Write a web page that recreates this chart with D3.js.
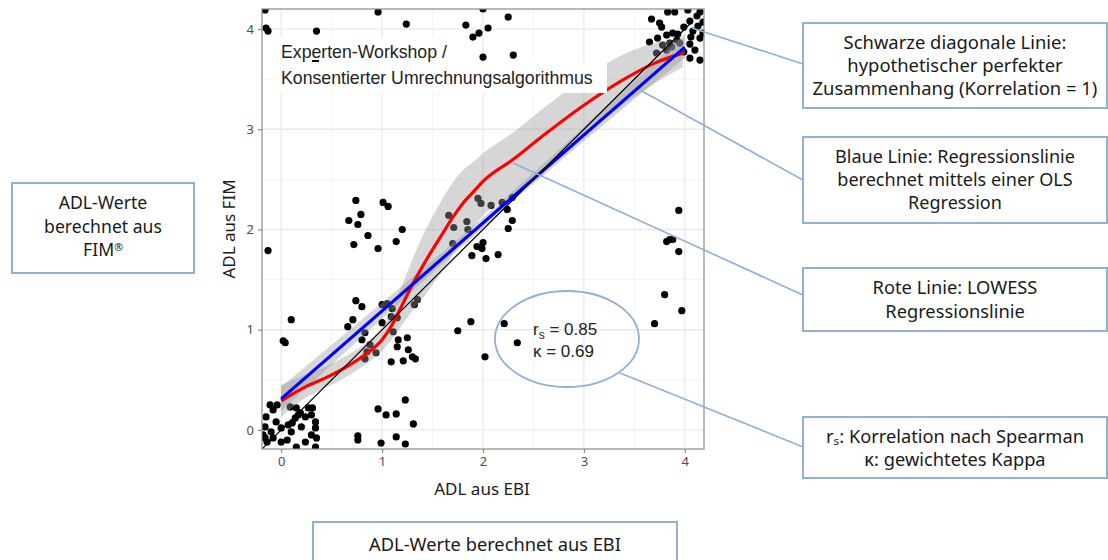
<!DOCTYPE html>
<html><head><meta charset="utf-8">
<script src="https://cdn.jsdelivr.net/npm/d3@7"></script>
<style>body{margin:0;background:#fff}</style>
</head><body><svg id="c" width="1108" height="560"></svg>
<script>
// ---- data ----
const ebi = [
 -0.16,-0.15,-0.13,0.35,0.96,1.24,0.34,1.83,1.90,1.96,2.05,2.00,2.25,2.30,2.00,
 3.67,3.75,3.77,3.83,3.90,4.03,3.65,3.73,3.82,3.88,3.93,3.99,4.05,4.12,4.15,4.18,4.13,4.08,4.18,4.15,4.06,4.05,4.10,4.15,4.05,3.99,3.95,3.92,3.87,3.82,3.78,3.72,3.85,
 3.94,3.82,3.85,3.88,3.94,3.80,3.97,3.70,
 1.75,1.88,2.21,2.34,2.02,
 0.74,1.01,1.06,0.79,0.67,0.76,0.86,1.20,0.72,0.96,1.14,-0.13,
 1.66,1.71,1.84,1.85,1.70,1.95,1.98,2.08,2.19,2.29,2.24,2.29,2.25,2.00,1.94,1.99,1.89,2.03,2.15,
 0.10,0.02,0.04,0.74,0.80,0.71,0.66,1.00,1.05,1.10,1.09,1.15,1.00,1.11,1.16,1.25,1.15,1.26,1.30,1.33,1.09,1.21,0.83,0.94,0.80,0.88,0.85,0.83,1.35,1.32,
 0.96,1.04,1.14,1.23,1.31,0.76,0.76,0.99,1.14,1.23,
 -0.11,-0.08,-0.04,-0.15,-0.05,-0.16,-0.10,-0.18,0.00,0.07,0.14,0.19,0.15,0.09,0.27,0.30,0.34,0.34,0.30,0.35,0.34,0.24,0.00,-0.16,-0.08,0.15,0.10,0.20,0.17,0.24,0.31,0.06,-0.14,0.11
];
const fim = [
 4.19,4.01,3.98,3.98,4.17,4.05,3.68,4.04,3.92,3.96,4.01,3.72,4.12,3.74,4.20,
 4.10,4.06,4.02,4.17,4.17,4.19,3.87,3.91,3.94,3.96,3.95,4.02,4.08,4.13,4.17,4.07,4.03,3.98,3.96,3.91,3.92,3.85,3.79,3.69,3.71,3.77,3.86,3.89,3.82,3.79,3.84,3.76,3.86,
 2.19,1.88,1.90,1.90,1.78,1.35,1.19,1.06,
 0.99,1.08,1.06,0.87,0.73,
 2.29,2.27,2.23,2.15,2.09,2.05,1.94,2.00,1.85,1.81,1.88,1.79,
 2.14,2.02,2.08,2.00,1.86,2.31,2.26,2.24,2.27,2.32,2.20,2.09,2.01,1.87,1.83,1.81,1.74,1.71,1.75,
 1.10,0.89,0.87,1.29,1.23,1.10,1.03,1.25,1.26,1.21,1.13,1.12,1.07,0.98,0.90,0.92,0.83,0.80,0.73,0.71,0.68,0.69,0.71,0.77,0.90,0.85,0.78,0.97,1.30,1.25,
 0.21,0.15,0.16,0.30,0.06,-0.06,-0.10,-0.13,-0.07,-0.14,
 0.25,0.20,0.25,0.13,0.08,0.03,-0.02,-0.05,0.02,0.05,0.12,0.17,0.22,0.23,0.22,0.15,0.08,0.02,-0.05,-0.08,-0.17,-0.12,-0.12,-0.08,-0.08,-0.17,-0.02,0.03,0.15,0.13,0.22,-0.10,-0.12,0.07
];
// OLS regression line and its confidence band
const olsX = [0, 4];
const olsY = [0.31, 3.82];
const olsBandX = [0, 1, 2, 3, 4];
const olsLo = [0.19, 1.11, 2.02, 2.88, 3.71];
const olsHi = [0.43, 1.27, 2.12, 3.02, 3.95];
// LOWESS curve and its band
const lowX  = [0, 0.24, 0.44, 0.63, 0.83, 1.00, 1.10, 1.20, 1.30, 1.40, 1.50, 1.60, 1.70, 1.80, 1.90, 2.00, 2.30, 2.60, 3.00, 3.40, 3.70, 3.98];
const lowY  = [0.29, 0.43, 0.52, 0.62, 0.75, 0.90, 1.05, 1.25, 1.45, 1.63, 1.80, 1.96, 2.12, 2.26, 2.37, 2.48, 2.70, 2.94, 3.24, 3.50, 3.66, 3.76];
const lowHi = [0.45, 0.55, 0.63, 0.73, 0.86, 1.02, 1.20, 1.45, 1.70, 1.93, 2.13, 2.31, 2.47, 2.59, 2.67, 2.76, 2.97, 3.21, 3.51, 3.75, 3.86, 3.90];
const lowLo = [0.13, 0.32, 0.42, 0.52, 0.65, 0.79, 0.91, 1.05, 1.19, 1.31, 1.45, 1.59, 1.75, 1.90, 2.02, 2.14, 2.35, 2.59, 2.94, 3.25, 3.46, 3.62];
const diagX = [-0.19, 4.05];
const xTicks = [0, 1, 2, 3, 4];
const yTicks = [0, 1, 2, 3, 4];
const minorTicks = [0.5, 1.5, 2.5, 3.5];
const xTitle = "ADL aus EBI";
const yTitle = "ADL aus FIM";
const plotLabel = ["Experten-Workshop /", "Konsentierter Umrechnungsalgorithmus"];
const statRs = "0.85", statKappa = "0.69";
const notes = [
  ["Schwarze diagonale Linie:", "hypothetischer perfekter", "Zusammenhang (Korrelation = 1)"],
  ["Blaue Linie: Regressionslinie", "berechnet mittels einer OLS", "Regression"],
  ["Rote Linie: LOWESS", "Regressionslinie"],
  ["r\u209B: Korrelation nach Spearman", "\u03BA: gewichtetes Kappa"],
  ["ADL-Werte", "berechnet aus", "FIM"],
  ["ADL-Werte berechnet aus EBI"]
];

// ---- layout ----
const svg = d3.select("#c");
const L = 262, R = 704, T = 9, B = 449;
const x = d3.scaleLinear().domain([-0.19, 4.19]).range([L, R]);
const y = d3.scaleLinear().domain([-0.19, 4.2]).range([B, T]);
const boxStroke = "#93afd6";
const sans = "'Noto Sans', 'Open Sans', sans-serif";

svg.append("defs").append("clipPath").attr("id","clip")
  .append("rect").attr("x",L).attr("y",T).attr("width",R-L).attr("height",B-T);

// grid
const g = svg.append("g");
g.selectAll(".mx").data(minorTicks).join("line")
  .attr("x1",d=>x(d)).attr("x2",d=>x(d)).attr("y1",T).attr("y2",B)
  .attr("stroke","#f3f3f3").attr("stroke-width",0.8);
g.selectAll(".my").data(minorTicks).join("line")
  .attr("y1",d=>y(d)).attr("y2",d=>y(d)).attr("x1",L).attr("x2",R)
  .attr("stroke","#f3f3f3").attr("stroke-width",0.8);
g.selectAll(".gx").data(xTicks).join("line")
  .attr("x1",d=>x(d)).attr("x2",d=>x(d)).attr("y1",T).attr("y2",B)
  .attr("stroke","#e9e9e9").attr("stroke-width",1.3);
g.selectAll(".gy").data(yTicks).join("line")
  .attr("y1",d=>y(d)).attr("y2",d=>y(d)).attr("x1",L).attr("x2",R)
  .attr("stroke","#e9e9e9").attr("stroke-width",1.3);

const panel = svg.append("g").attr("clip-path","url(#clip)");
// points
panel.selectAll("circle").data(ebi.map((v,i)=>[v,fim[i]])).join("circle")
  .attr("cx",d=>x(d[0])).attr("cy",d=>y(d[1])).attr("r",3.6).attr("fill","#000");

// ribbons
const area = d3.area().curve(d3.curveMonotoneX);
panel.append("path")
  .attr("d", area.x(d=>x(d[0])).y0(d=>y(d[1])).y1(d=>y(d[2]))(olsBandX.map((v,i)=>[v,olsLo[i],olsHi[i]])))
  .attr("fill","#999").attr("fill-opacity",0.4);
panel.append("path")
  .attr("d", area.x(d=>x(d[0])).y0(d=>y(d[1])).y1(d=>y(d[2]))(lowX.map((v,i)=>[v,lowLo[i],lowHi[i]])))
  .attr("fill","#999").attr("fill-opacity",0.4);

// lines
panel.append("path")
  .attr("d", d3.line().curve(d3.curveMonotoneX).x(d=>x(d[0])).y(d=>y(d[1]))(lowX.map((v,i)=>[v,lowY[i]])))
  .attr("fill","none").attr("stroke","#ff0000").attr("stroke-width",3.2);
panel.append("path")
  .attr("d", d3.line().x(d=>x(d[0])).y(d=>y(d[1]))(olsX.map((v,i)=>[v,olsY[i]])))
  .attr("fill","none").attr("stroke","#0000ff").attr("stroke-width",3.2);
panel.append("path")
  .attr("d", d3.line().x(d=>x(d)).y(d=>y(d))(diagX))
  .attr("fill","none").attr("stroke","#000").attr("stroke-width",1.2);

// panel border
svg.append("rect").attr("x",L).attr("y",T).attr("width",R-L).attr("height",B-T)
  .attr("fill","none").attr("stroke","#8a8a8a").attr("stroke-width",1.2);

// axes
const xa = svg.append("g").attr("transform",`translate(0,${B})`)
  .call(d3.axisBottom(x).tickValues(xTicks).tickFormat(d3.format("d")).tickSize(4).tickPadding(4));
const ya = svg.append("g").attr("transform",`translate(${L},0)`)
  .call(d3.axisLeft(y).tickValues(yTicks).tickFormat(d3.format("d")).tickSize(4).tickPadding(4));
[xa,ya].forEach(a=>{
  a.select(".domain").remove();
  a.selectAll(".tick line").attr("stroke","#8a8a8a").attr("stroke-width",1.2);
  a.selectAll("text").attr("fill","#4d4d4d").style("font-family",sans).style("font-size","13px");
});
svg.append("text").attr("x",482).attr("y",495).attr("text-anchor","middle")
  .style("font-family",sans).style("font-size","17px").attr("fill","#1a1a1a").text(xTitle);
svg.append("text").attr("transform","translate(235,229) rotate(-90)").attr("text-anchor","middle")
  .style("font-family",sans).style("font-size","17px").attr("fill","#1a1a1a").text(yTitle);

// plot label with white backgrounds
const lblFont = "'Liberation Sans', Arial, sans-serif";
const r1 = svg.append("rect").attr("fill","#fff");
const r2 = svg.append("rect").attr("fill","#fff");
const lt = plotLabel.map((t,i)=> svg.append("text").attr("x",281).attr("y",58+i*26)
    .style("font-family",lblFont).style("font-size","16px").attr("fill","#222").text(t));
{
  const w = lt[1].node().getComputedTextLength();
  const fs = 16 * 312 / w;
  lt.forEach(t=>t.style("font-size", fs + "px"));
  const w1 = lt[0].node().getComputedTextLength();
  r1.attr("x",276).attr("y",37).attr("width",w1+10).attr("height",23);
  r2.attr("x",276).attr("y",62).attr("width",331).attr("height",31);
}

// stats ellipse
svg.append("ellipse").attr("cx",567).attr("cy",339).attr("rx",72).attr("ry",48)
  .attr("fill","none").attr("stroke",boxStroke).attr("stroke-width",1.8);
const s1 = svg.append("text").attr("x",533).attr("y",335)
  .style("font-family",lblFont).style("font-size","17px").attr("fill","#222");
s1.append("tspan").text("r");
s1.append("tspan").attr("dy",4).style("font-size","12px").text("s");
s1.append("tspan").attr("dy",-4).text(" = " + statRs);
svg.append("text").attr("x",533).attr("y",357)
  .style("font-family",lblFont).style("font-size","17px").attr("fill","#222").text("\u03BA = " + statKappa);

// leader lines
const leaders = [[692,28,803,64],[640,90,803,180],[513,163,803,295],[620,373,803,447]];
svg.selectAll(".ld").data(leaders).join("line")
  .attr("x1",d=>d[0]).attr("y1",d=>d[1]).attr("x2",d=>d[2]).attr("y2",d=>d[3])
  .attr("stroke",boxStroke).attr("stroke-width",1.6);

// annotation boxes (target: width of widest line in px)
const boxes = [
  {x:803,y:23,w:304,h:85,cy:[43,66,89],tw:285},
  {x:803,y:137,w:304,h:86,cy:[157,180,203],tw:240},
  {x:803,y:268,w:304,h:63,cy:[288,312],tw:165},
  {x:803,y:417,w:304,h:61,cy:[437,460],tw:258},
  {x:12,y:183,w:182,h:90,cy:[203,227,250],tw:118},
  {x:313,y:522,w:364,h:50,cy:[545],tw:252}
];
boxes.forEach((b,i)=>{
  svg.append("rect").attr("x",b.x).attr("y",b.y).attr("width",b.w).attr("height",b.h)
    .attr("fill","#fff").attr("stroke",boxStroke).attr("stroke-width",2);
  const ts = notes[i].map((t,j)=> svg.append("text").attr("x",b.x+b.w/2).attr("y",b.cy[j]).attr("dy","0.35em")
      .attr("text-anchor","middle").style("font-family",sans).style("font-size","16px")
      .attr("fill","#1a1a1a").text(t));
  const mw = d3.max(ts, t=>t.node().getComputedTextLength());
  const fs = Math.min(19, 16 * b.tw / mw);
  ts.forEach(t=>t.style("font-size", fs + "px"));
  if (i === 4) {
    ts[2].append("tspan").attr("dy","-0.45em").style("font-size", (fs*0.6)+"px").text("\u00AE");
  }
});
</script></body></html>
